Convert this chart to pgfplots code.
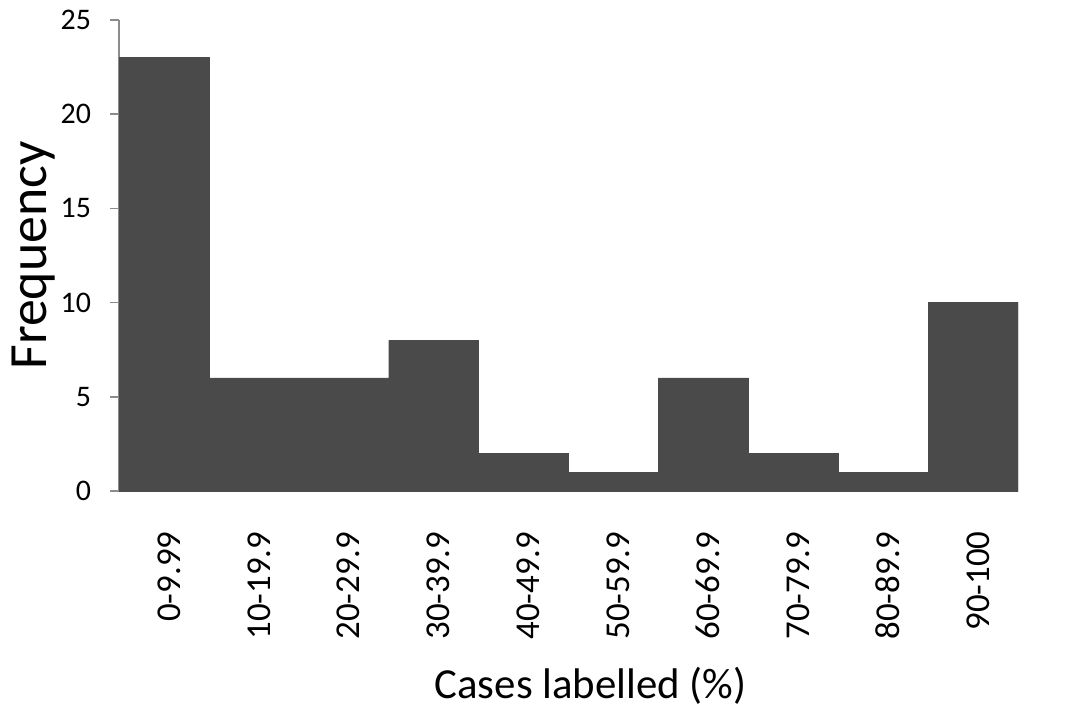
\documentclass[border=0pt]{standalone}
\usepackage{fontspec}
\setmainfont{Carlito}
\usepackage{pgfplots}
\pgfplotsset{compat=1.18}
\definecolor{barc}{RGB}{74,74,74}
\definecolor{axc}{RGB}{140,140,140}
\begin{document}
\begin{tikzpicture}
\begin{axis}[
  at={(0,0)}, anchor=south west,
  scale only axis,
  width=449.5bp, height=235.5bp,
  xmin=0.5, xmax=10.5,
  ymin=0, ymax=25,
  ytick={0,5,10,15,20,25},
  xtick={1,...,10},
  xticklabels={0-9.99,10-19.9,20-29.9,30-39.9,40-49.9,50-59.9,60-69.9,70-79.9,80-89.9,90-100},
  axis x line=bottom, axis y line=left,
  axis line style={draw=axc, line width=0.7bp, -},
  x axis line style={-}, y axis line style={-},
  tick style={draw=axc, line width=0.7bp},
  major tick length=4.5bp,
  ytick align=outside,
  xtick style={draw=none},
  /pgf/number format/assume math mode=true,
  yticklabel style={font=\fontsize{15}{17}\selectfont, xshift=-6bp},
  xticklabel style={font=\fontsize{17.5}{20}\selectfont, rotate=90, anchor=east, xshift=-14.5bp, yshift=-2.5bp},
  xlabel={Cases labelled (\%)},
  ylabel={Frequency},
  xlabel style={font=\fontsize{21.5}{25}\selectfont, xshift=11bp, yshift=-7bp},
  ylabel style={font=\fontsize{27}{31}\selectfont, yshift=-4bp},
]
\addplot[ybar, bar width=1, fill=barc, draw=barc, line width=0.2bp, bar shift=0pt] coordinates {
(1,23) (2,6) (3,6) (4,8) (5,2) (6,1) (7,6) (8,2) (9,1) (10,10)
};
\end{axis}
\pgfresetboundingbox
\useasboundingbox (-59.5bp,-110bp) rectangle (477bp,245.5bp);
\end{tikzpicture}
\end{document}
